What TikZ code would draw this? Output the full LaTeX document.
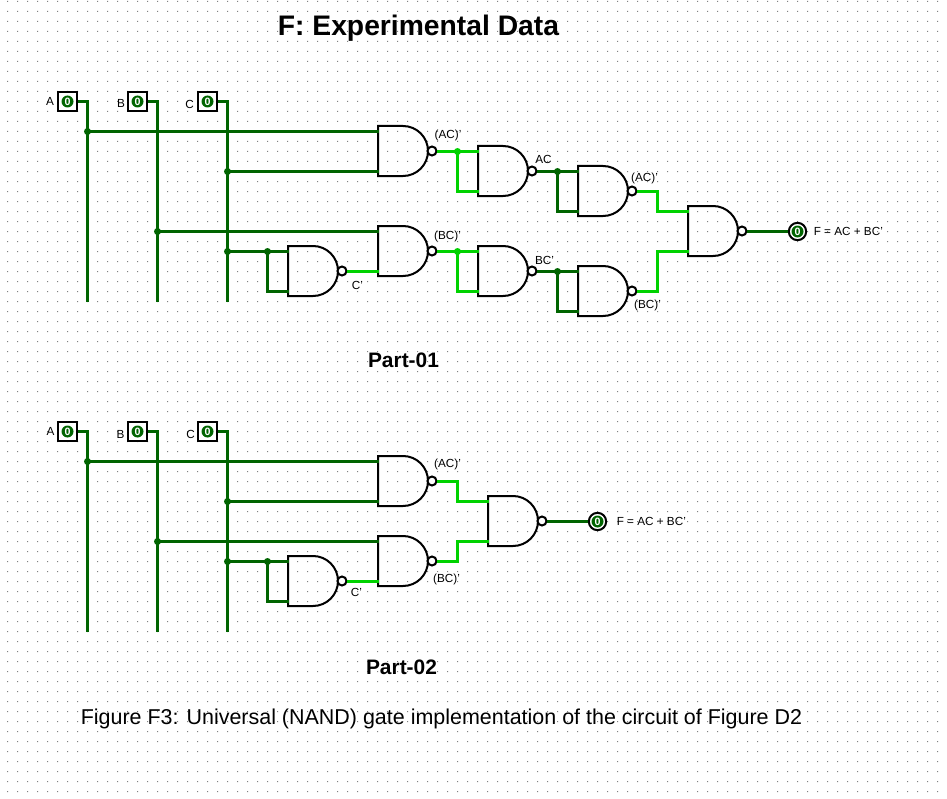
\documentclass[tikz,border=0pt]{standalone}
\usepackage{fontspec}
\setmainfont{Liberation Sans}
\definecolor{wiredark}{RGB}{0,100,0}
\definecolor{wirelight}{RGB}{0,210,0}
\definecolor{griddot}{RGB}{128,128,128}
\tikzset{
  x=0.75pt,y=-0.75pt,
  wd/.style={draw=wiredark,line width=2.25pt,line join=miter},
  wl/.style={draw=wirelight,line width=2.25pt,line join=miter},
  jd/.style={fill=wiredark},
  jl/.style={fill=wirelight},
  lab/.style={inner sep=0pt,font=\fontsize{8.8pt}{10pt}\selectfont},
  inpin/.style={draw=black,line width=1.5pt,fill=white,minimum size=14.25pt,inner sep=0pt,
    path picture={\fill[wiredark] (path picture bounding box.center) circle[x radius=6,y radius=6];
      \node[white,font=\bfseries\fontsize{8pt}{8pt}\selectfont,inner sep=0pt] at (path picture bounding box.center) {0};}},
  outpin/.style={circle,draw=black,line width=1.5pt,fill=white,minimum size=13pt,inner sep=0pt,
    path picture={\fill[wiredark] (path picture bounding box.center) circle[x radius=6,y radius=6];
      \node[white,font=\bfseries\fontsize{8pt}{8pt}\selectfont,inner sep=0pt] at (path picture bounding box.center) {0};}},
  nand/.pic={
    \begin{scope}[shift={(-0.5,-0.5)}]
    \draw[black,line width=1.5pt,line join=miter] (0,-25) -- (25,-25)
      arc[start angle=-90,end angle=90,radius=25] -- (0,25) -- cycle;
    \draw[black,line width=1.5pt,fill=white] (54,0) circle[radius=4.5];
    \end{scope}
    \coordinate (-a) at (0,-20);
    \coordinate (-b) at (0,20);
    \coordinate (-o) at (58,0);
  },
}
\begin{document}
\begin{tikzpicture}
\useasboundingbox (0,0) rectangle (947,799);
\fill[white] (0,0) rectangle (947,799);
\fill[griddot] \foreach \i in {0,...,93} {\foreach \j in {0,...,79} {
  ({7+10*\i},{1+10*\j}) rectangle +(1,1)}};
\begin{scope}[shift={(0.5,0.5)}]
% ---------- Part 1
\node[inpin] (pa) at (67,101) {};
\node[inpin] (pb) at (137,101) {};
\node[inpin] (pc) at (207,101) {};
\coordinate (aend) at (87,301);
\coordinate (bend) at (157,301);
\coordinate (cend) at (227,301);
\pic (g1) at (378,151) {nand};
\pic (g2) at (478,171) {nand};
\pic (g3) at (578,191) {nand};
\pic (g4) at (688,231) {nand};
\pic (g5) at (288,271) {nand};
\pic (g6) at (378,251) {nand};
\pic (g7) at (478,271) {nand};
\pic (g8) at (578,291) {nand};
\node[outpin] (pf) at (797,231) {};
\coordinate (ja) at (aend |- g1-a);
\coordinate (jc1) at (cend |- g1-b);
\coordinate (jb) at (bend |- g6-a);
\coordinate (jc2) at (cend |- g5-a);
\coordinate (jc3) at (267,251);
\coordinate (j1) at (457,151);
\coordinate (j2) at (557,171);
\coordinate (j6) at (457,251);
\coordinate (j7) at (557,271);
\coordinate (m3) at (657,191);
\coordinate (m8) at (657,291);
\draw[wd] (pa.east) -- (pa -| aend) -- (aend);
\draw[wd] (pb.east) -- (pb -| bend) -- (bend);
\draw[wd] (pc.east) -- (pc -| cend) -- (cend);
\draw[wd] (ja) -- (g1-a);
\draw[wd] (jc1) -- (g1-b);
\draw[wd] (jb) -- (g6-a);
\draw[wd] (jc2) -- (g5-a);
\draw[wd] (jc3) |- (g5-b);
\draw[wl] (g5-o) -- (g6-b);
\draw[wl] (g1-o) -- (g2-a);
\draw[wl] (j1) |- (g2-b);
\draw[wd] (g2-o) -- (g3-a);
\draw[wd] (j2) |- (g3-b);
\draw[wl] (g3-o) -- (m3) |- (g4-a);
\draw[wl] (g6-o) -- (g7-a);
\draw[wl] (j6) |- (g7-b);
\draw[wd] (g7-o) -- (g8-a);
\draw[wd] (j7) |- (g8-b);
\draw[wl] (g8-o) -- (m8) |- (g4-b);
\draw[wd] (g4-o) -- (pf.west);
\foreach \p in {ja,jc1,jb,jc2,jc3,j2,j7} \fill[jd] (\p) circle[radius=3.5];
\foreach \p in {j1,j6} \fill[jl] (\p) circle[radius=3.5];
\node[lab] (la) at (49.5,101) {A};
\node[lab] (lb) at (120.5,103) {B};
\node[lab] (lc) at (189,104) {C};
\node[lab] (l1) at (447.5,135) {(AC)'};
\node[lab] (l2) at (543,159) {AC};
\node[lab] (l3) at (644,178) {(AC)'};
\node[lab] (l4) at (447,236) {(BC)'};
\node[lab] (l5) at (544,260) {BC'};
\node[lab] (l6) at (647,305) {(BC)'};
\node[lab] (l7) at (357,285) {C'};
\node[lab,anchor=west] (l8) at (813,231) {F = AC + BC'};
% ---------- Part 2
\node[inpin] (qa) at (67,431) {};
\node[inpin] (qb) at (137,431) {};
\node[inpin] (qc) at (207,431) {};
\coordinate (qaend) at (87,631);
\coordinate (qbend) at (157,631);
\coordinate (qcend) at (227,631);
\pic (h1) at (378,481) {nand};
\pic (h2) at (378,561) {nand};
\pic (h3) at (288,581) {nand};
\pic (h4) at (488,521) {nand};
\node[outpin] (qf) at (597,521) {};
\coordinate (ka) at (qaend |- h1-a);
\coordinate (kc1) at (qcend |- h1-b);
\coordinate (kb) at (qbend |- h2-a);
\coordinate (kc2) at (qcend |- h3-a);
\coordinate (kc3) at (267,561);
\coordinate (n1) at (457,481);
\coordinate (n2) at (457,561);
\draw[wd] (qa.east) -- (qa -| qaend) -- (qaend);
\draw[wd] (qb.east) -- (qb -| qbend) -- (qbend);
\draw[wd] (qc.east) -- (qc -| qcend) -- (qcend);
\draw[wd] (ka) -- (h1-a);
\draw[wd] (kc1) -- (h1-b);
\draw[wd] (kb) -- (h2-a);
\draw[wd] (kc2) -- (h3-a);
\draw[wd] (kc3) |- (h3-b);
\draw[wl] (h3-o) -- (h2-b);
\draw[wl] (h1-o) -- (n1) |- (h4-a);
\draw[wl] (h2-o) -- (n2) |- (h4-b);
\draw[wd] (h4-o) -- (qf.west);
\foreach \p in {ka,kc1,kb,kc2,kc3} \fill[jd] (\p) circle[radius=3.5];
\node[lab] (ma) at (50,431) {A};
\node[lab] (mb) at (120,434) {B};
\node[lab] (mc) at (190,434) {C};
\node[lab] (m1) at (447,464) {(AC)'};
\node[lab] (m2) at (446,579) {(BC)'};
\node[lab] (m4) at (356,592) {C'};
\node[lab,anchor=west] (m5) at (616,521) {F = AC + BC'};
% ---------- Titles
\node[inner sep=0pt,font=\bfseries\fontsize{21.2pt}{24pt}\selectfont] (title) at (418,28) {F: Experimental Data};
\node[inner sep=0pt,font=\bfseries\fontsize{15.7pt}{18pt}\selectfont] (p1) at (403,360) {Part-01};
\node[inner sep=0pt,font=\bfseries\fontsize{15.7pt}{18pt}\selectfont] (p2) at (401,667) {Part-02};
\node[inner sep=0pt,font=\fontsize{16.1pt}{19pt}\selectfont] (cap) at (441,718) {Figure F3: Universal (NAND) gate implementation of the circuit of Figure D2};
\end{scope}
\end{tikzpicture}
\end{document}
